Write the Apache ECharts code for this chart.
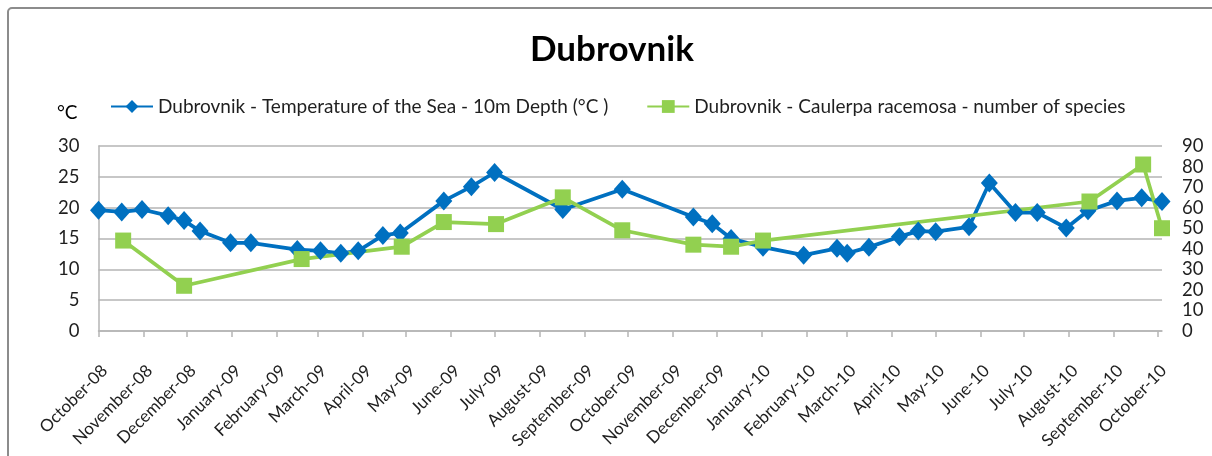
<!DOCTYPE html>
<html>
<head>
<meta charset="utf-8">
<script src="https://cdn.jsdelivr.net/npm/echarts@6/dist/echarts.min.js"></script>
<style>
  html, body { margin: 0; padding: 0; background: #ffffff; }
  #chart { width: 1212px; height: 456px; }
</style>
</head>
<body>
<div id="chart"></div>
<script>
// Monthly tick labels of the date axis
const monthLabels = [
  'October-08', 'November-08', 'December-08', 'January-09', 'February-09', 'March-09',
  'April-09', 'May-09', 'June-09', 'July-09', 'August-09', 'September-09',
  'October-09', 'November-09', 'December-09', 'January-10', 'February-10', 'March-10',
  'April-10', 'May-10', 'June-10', 'July-10', 'August-10', 'September-10', 'October-10'
];
const tickDates = [
  '2008-10-01', '2008-11-01', '2008-12-01', '2009-01-01', '2009-02-01', '2009-03-01',
  '2009-04-01', '2009-05-01', '2009-06-01', '2009-07-01', '2009-08-01', '2009-09-01',
  '2009-10-01', '2009-11-01', '2009-12-01', '2010-01-01', '2010-02-01', '2010-03-01',
  '2010-04-01', '2010-05-01', '2010-06-01', '2010-07-01', '2010-08-01', '2010-09-01',
  '2010-10-01'
];

// Sea temperature at 10 m depth (°C)
const tempDates = [
  '2008-10-01', '2008-10-17', '2008-10-31', '2008-11-18', '2008-11-29', '2008-12-10',
  '2008-12-31', '2009-01-14', '2009-02-15', '2009-03-03', '2009-03-17', '2009-03-29',
  '2009-04-15', '2009-04-27', '2009-05-27', '2009-06-15', '2009-07-01', '2009-08-17',
  '2009-09-27', '2009-11-15', '2009-11-28', '2009-12-11', '2010-01-02', '2010-01-30',
  '2010-02-22', '2010-03-01', '2010-03-16', '2010-04-06', '2010-04-19', '2010-05-01',
  '2010-05-24', '2010-06-07', '2010-06-25', '2010-07-10', '2010-07-30', '2010-08-14',
  '2010-09-03', '2010-09-20', '2010-10-04'
];
const tempValues = [
  19.6, 19.3, 19.7, 18.7, 17.9, 16.2,
  14.3, 14.3, 13.2, 13.0, 12.6, 13.0,
  15.5, 15.9, 21.1, 23.4, 25.7, 19.7,
  23.0, 18.5, 17.4, 15.0, 13.6, 12.3,
  13.4, 12.6, 13.6, 15.3, 16.2, 16.1,
  16.9, 24.0, 19.2, 19.2, 16.7, 19.5,
  21.1, 21.6, 21.0
];

// Caulerpa racemosa - number of species
const speciesDates = [
  '2008-10-18', '2008-11-29', '2009-02-18', '2009-04-28', '2009-05-27', '2009-07-02',
  '2009-08-17', '2009-09-27', '2009-11-15', '2009-12-11', '2010-01-02', '2010-08-15',
  '2010-09-21', '2010-10-04'
];
const speciesValues = [44, 22, 35, 41, 53, 52, 65, 49, 42, 41, 44, 63, 81, 50];

const axisStart = '2008-10-01';
const axisEnd = '2010-10-04';

// Parse 'YYYY-MM-DD' as a local calendar date (milliseconds)
function toTime(s) {
  const p = s.split('-').map(Number);
  return new Date(p[0], p[1] - 1, p[2]).getTime();
}

const tickTimes = tickDates.map(toTime);
const tempData = tempDates.map((d, i) => [toTime(d), tempValues[i]]);
const speciesData = speciesDates.map((d, i) => [toTime(d), speciesValues[i]]);

const FONT = 'Lato, "Open Sans", sans-serif';
const TEXT = '#1f1f1f';
const GRID_COLOR = '#b5b5b5';

const chart = echarts.init(document.getElementById('chart'), null, { renderer: 'canvas' });

chart.setOption({
  animation: false,
  backgroundColor: '#ffffff',
  textStyle: { fontFamily: FONT },
  graphic: [{
    type: 'rect',
    shape: { x: 8, y: 8, width: 1300, height: 500, r: 4 },
    style: { fill: null, stroke: '#8c8c8c', lineWidth: 2 },
    silent: true,
    z: -1
  }],
  title: {
    text: 'Dubrovnik',
    left: 525,
    top: 27,
    textStyle: { fontFamily: FONT, fontSize: 35, fontWeight: 'bold', color: '#000000' }
  },
  legend: {
    left: 105,
    top: 92,
    itemWidth: 42,
    itemHeight: 16,
    itemGap: 38,
    textStyle: { fontFamily: FONT, fontSize: 19, color: TEXT },
    data: [
      'Dubrovnik - Temperature of the Sea - 10m Depth (°C )',
      'Dubrovnik - Caulerpa racemosa - number of species'
    ]
  },
  grid: {
    left: 98.5,
    right: 50,
    top: 146,
    bottom: 125,
    containLabel: false,
    outerBoundsMode: 'none'
  },
  // Date axis in milliseconds, ticked at the first of every month
  xAxis: {
    type: 'value',
    min: toTime(axisStart),
    max: toTime(axisEnd),
    axisLine: { show: true, onZero: false, lineStyle: { color: GRID_COLOR, width: 1.5 } },
    axisTick: {
      show: true,
      customValues: tickTimes,
      length: 6,
      lineStyle: { color: GRID_COLOR, width: 1.5 }
    },
    axisLabel: {
      customValues: tickTimes,
      rotate: 45,
      margin: 31,
      verticalAlign: 'top',
      fontFamily: FONT,
      fontSize: 17,
      color: TEXT,
      formatter: function (value) {
        const idx = tickTimes.indexOf(value);
        return idx >= 0 ? monthLabels[idx] : '';
      }
    },
    splitLine: { show: false }
  },
  yAxis: [{
    type: 'value',
    min: 0,
    max: 30,
    interval: 5,
    name: '°C',
    nameLocation: 'end',
    nameGap: 24,
    nameTextStyle: { fontFamily: FONT, fontSize: 19, color: '#000000', align: 'right', padding: [0, 21, 0, 0] },
    axisLine: { show: true, lineStyle: { color: GRID_COLOR, width: 1.5 } },
    axisTick: { show: false },
    axisLabel: { margin: 19, fontFamily: FONT, fontSize: 18.5, color: TEXT },
    splitLine: { show: true, lineStyle: { color: GRID_COLOR, width: 1.5 } }
  }, {
    type: 'value',
    min: 0,
    max: 90,
    interval: 10,
    position: 'right',
    axisLine: { show: false },
    axisTick: { show: false },
    axisLabel: { margin: 20, fontFamily: FONT, fontSize: 18.5, color: TEXT },
    splitLine: { show: false }
  }],
  series: [{
    name: 'Dubrovnik - Temperature of the Sea - 10m Depth (°C )',
    type: 'line',
    yAxisIndex: 0,
    data: tempData,
    symbol: 'diamond',
    symbolSize: [17, 19],
    showAllSymbol: true,
    color: '#0070C0',
    itemStyle: { color: '#0070C0' },
    lineStyle: { color: '#0070C0', width: 3.75 }
  }, {
    name: 'Dubrovnik - Caulerpa racemosa - number of species',
    type: 'line',
    yAxisIndex: 1,
    data: speciesData,
    symbol: 'rect',
    symbolSize: 16,
    showAllSymbol: true,
    color: '#92D050',
    itemStyle: { color: '#92D050' },
    lineStyle: { color: '#92D050', width: 3.75 }
  }]
});
</script>
</body>
</html>
